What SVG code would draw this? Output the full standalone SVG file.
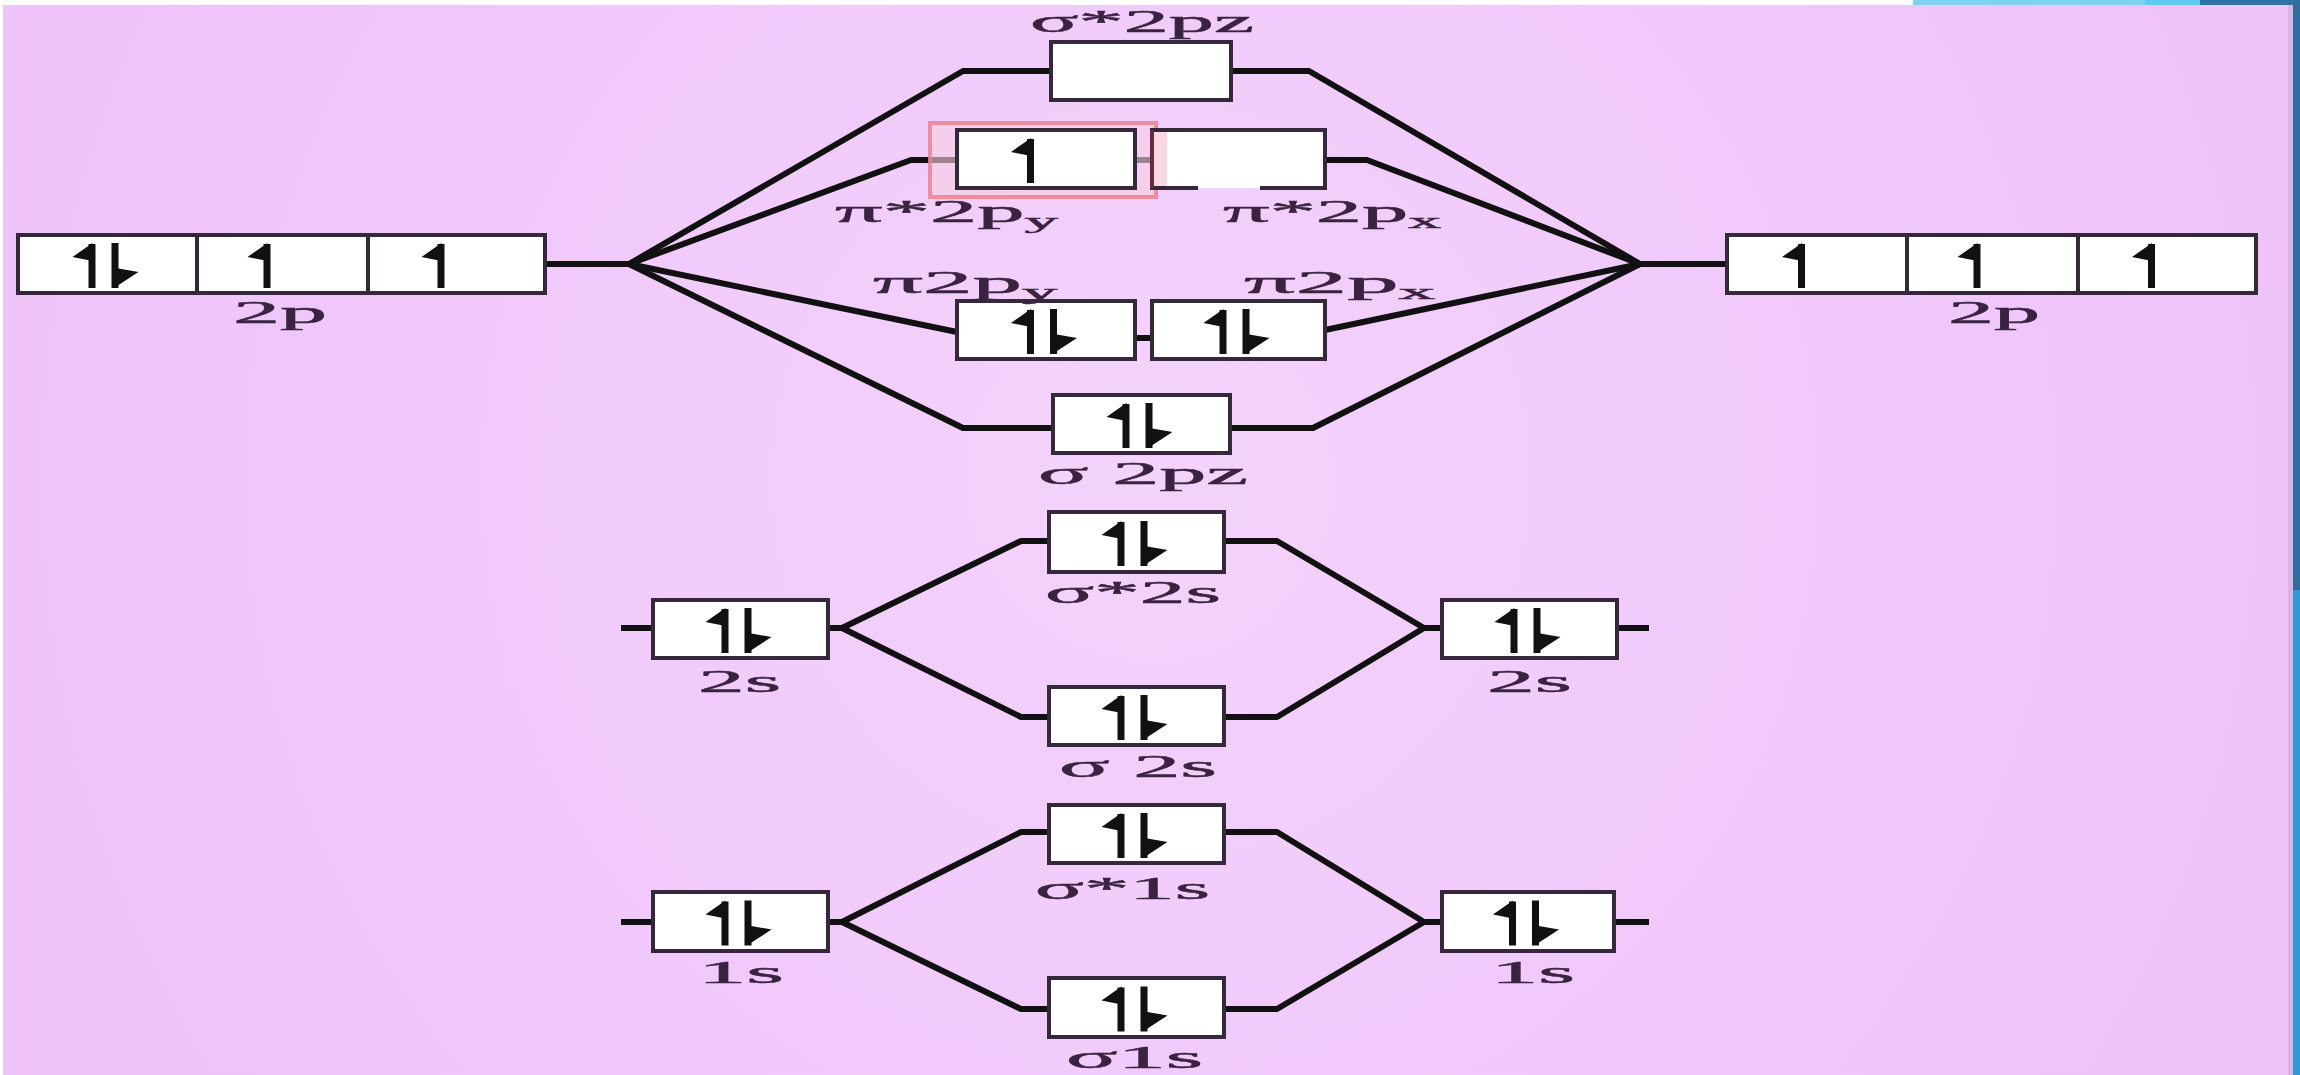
<svg xmlns="http://www.w3.org/2000/svg" xmlns:xlink="http://www.w3.org/1999/xlink" width="2300" height="1075" viewBox="0 0 2300 1075">
<defs>
<radialGradient id="bg" cx="1150" cy="480" r="1250" gradientUnits="userSpaceOnUse">
<stop offset="0" stop-color="#f3d3fb"/>
<stop offset="0.6" stop-color="#f0c8fa"/>
<stop offset="1" stop-color="#eec3f8"/>
</radialGradient>
<g id="up"><rect x="-19" y="-20" width="7" height="44"/><polygon points="-15,-21 -35,-7 -15,-3"/></g>
<g id="dn"><rect x="4" y="-21" width="7" height="45"/><polygon points="8,4 31,8 8,23"/></g>
<g id="pair"><use xlink:href="#up"/><use xlink:href="#dn"/></g>
</defs>
<style>
.box{fill:#ffffff;stroke:#35283a;stroke-width:4}
.ln{fill:none;stroke:#111111;stroke-width:6;stroke-linejoin:round;stroke-linecap:butt}
.dv{fill:none;stroke:#35283a;stroke-width:4}
.lbl{font-family:"Liberation Serif","DejaVu Serif",serif;font-size:31px;fill:#3a2340;stroke:#3a2340;stroke-width:0.5}
.sub{font-size:22px}
.e{fill:#111111}
</style>
<rect x="0" y="0" width="2300" height="1075" fill="url(#bg)"/>
<rect x="0" y="0" width="2300" height="5" fill="#ffffff"/>
<rect x="0" y="0" width="3" height="1075" fill="#ffffff"/>
<rect x="1913" y="0" width="232" height="5" fill="#7dd3f0"/>
<rect x="2145" y="0" width="55" height="5" fill="#5ec9ee"/>
<rect x="2200" y="0" width="100" height="5" fill="#2d73a5"/>
<rect x="2288" y="5" width="5" height="1070" fill="#ddb0e6"/>
<rect x="2293" y="0" width="7" height="590" fill="#2c6f9f"/>
<rect x="2293" y="590" width="7" height="485" fill="#2a9bd8"/>

<g id="connectors">
<path class="ln" d="M545,264 H629 L963,71 H1051"/>
<path class="ln" d="M629,264 L911,160 H957"/>
<path class="ln" d="M629,264 L957,332"/>
<path class="ln" d="M629,264 L963,428 H1053"/>
<path class="ln" d="M1727,264 H1640 L1309,71 H1231"/>
<path class="ln" d="M1640,264 L1367,160 H1325"/>
<path class="ln" d="M1640,264 L1325,330"/>
<path class="ln" d="M1640,264 L1313,428 H1230"/>
<path class="ln" d="M1135,160 H1152"/>
<path class="ln" d="M1135,338 H1152"/>
<path class="ln" d="M621,628 H653"/>
<path class="ln" d="M828,628 H842 L1021,541 H1049"/>
<path class="ln" d="M842,628 L1021,717 H1049"/>
<path class="ln" d="M1442,628 H1424 L1277,541 H1224"/>
<path class="ln" d="M1424,628 L1277,717 H1224"/>
<path class="ln" d="M1617,628 H1649"/>
<path class="ln" d="M621,922 H653"/>
<path class="ln" d="M828,922 H842 L1021,832 H1049"/>
<path class="ln" d="M842,922 L1021,1009 H1049"/>
<path class="ln" d="M1442,922 H1424 L1277,832 H1224"/>
<path class="ln" d="M1424,922 L1277,1009 H1224"/>
<path class="ln" d="M1614,922 H1649"/>
</g>

<g id="left-2p">
<rect class="box" x="18" y="235" width="527" height="58"/>
<path class="dv" d="M197,235 V293 M368,235 V293"/>
<g class="e"><use xlink:href="#pair" x="107.5" y="264"/><use xlink:href="#up" x="282.5" y="264"/><use xlink:href="#up" x="456.5" y="264"/></g>
<text class="lbl" x="233" y="323" textLength="94" lengthAdjust="spacingAndGlyphs">2p</text>
</g>

<g id="right-2p">
<rect class="box" x="1727" y="235" width="529" height="58"/>
<path class="dv" d="M1907,235 V293 M2078,235 V293"/>
<g class="e"><use xlink:href="#up" x="1817" y="264"/><use xlink:href="#up" x="1992.5" y="264"/><use xlink:href="#up" x="2167" y="264"/></g>
<text class="lbl" x="1948" y="323" textLength="92" lengthAdjust="spacingAndGlyphs">2p</text>
</g>

<g id="sigma-star-2pz">
<rect class="box" x="1051" y="42" width="180" height="58"/>
<text class="lbl" x="1030" y="32" textLength="224" lengthAdjust="spacingAndGlyphs">σ*2pz</text>
</g>

<g id="highlight">
<rect x="930" y="123" width="226" height="74" fill="#f6cfe4" fill-opacity="0.6" stroke="#f0808c" stroke-width="4" stroke-opacity="0.85"/>
</g>

<g id="pi-star-2py">
<rect class="box" x="957" y="130" width="178" height="58"/>
<g class="e"><use xlink:href="#up" x="1046" y="159"/></g>
<text class="lbl" x="835" y="222" textLength="223" lengthAdjust="spacingAndGlyphs">π*2p<tspan class="sub" dy="6">y</tspan></text>
</g>

<g id="pi-star-2px">
<rect x="1152" y="130" width="173" height="58" fill="#ffffff"/>
<rect x="1153" y="131" width="14" height="56" fill="#f8d8e2"/>
<path fill="none" stroke="#35283a" stroke-width="4" d="M1198,188 H1152 V130 H1325 V188 H1260"/>
<path fill="none" stroke="#6a2a3a" stroke-width="4" d="M1152,130 V188"/>
<text class="lbl" x="1223" y="222" textLength="218" lengthAdjust="spacingAndGlyphs">π*2p<tspan class="sub" dy="6">x</tspan></text>
</g>

<g id="pi-2py">
<rect class="box" x="957" y="301" width="178" height="58"/>
<g class="e"><use xlink:href="#pair" x="1046" y="330"/></g>
<text class="lbl" x="873" y="293" textLength="184" lengthAdjust="spacingAndGlyphs">π2p<tspan class="sub" dy="6">y</tspan></text>
</g>

<g id="pi-2px">
<rect class="box" x="1152" y="301" width="173" height="58"/>
<g class="e"><use xlink:href="#pair" x="1238.5" y="330"/></g>
<text class="lbl" x="1244" y="293" textLength="191" lengthAdjust="spacingAndGlyphs">π2p<tspan class="sub" dy="6">x</tspan></text>
</g>

<g id="sigma-2pz">
<rect class="box" x="1053" y="395" width="177" height="58"/>
<g class="e"><use xlink:href="#pair" x="1141.5" y="424"/></g>
<text class="lbl" x="1038" y="484" textLength="210" lengthAdjust="spacingAndGlyphs">σ 2pz</text>
</g>

<g id="sigma-star-2s">
<rect class="box" x="1049" y="512" width="175" height="60"/>
<g class="e"><use xlink:href="#pair" x="1136.5" y="542"/></g>
<text class="lbl" x="1045" y="603" textLength="176" lengthAdjust="spacingAndGlyphs">σ*2s</text>
</g>

<g id="left-2s">
<rect class="box" x="653" y="600" width="175" height="58"/>
<g class="e"><use xlink:href="#pair" x="740.5" y="629"/></g>
<text class="lbl" x="698" y="692" textLength="83" lengthAdjust="spacingAndGlyphs">2s</text>
</g>

<g id="right-2s">
<rect class="box" x="1442" y="600" width="175" height="58"/>
<g class="e"><use xlink:href="#pair" x="1529.5" y="629"/></g>
<text class="lbl" x="1487" y="692" textLength="85" lengthAdjust="spacingAndGlyphs">2s</text>
</g>

<g id="sigma-2s">
<rect class="box" x="1049" y="687" width="175" height="58"/>
<g class="e"><use xlink:href="#pair" x="1136.5" y="716"/></g>
<text class="lbl" x="1059" y="777" textLength="158" lengthAdjust="spacingAndGlyphs">σ 2s</text>
</g>

<g id="sigma-star-1s">
<rect class="box" x="1049" y="805" width="175" height="58"/>
<g class="e"><use xlink:href="#pair" x="1136.5" y="834"/></g>
<text class="lbl" x="1035" y="899" textLength="175" lengthAdjust="spacingAndGlyphs">σ*1s</text>
</g>

<g id="left-1s">
<rect class="box" x="653" y="892" width="175" height="59"/>
<g class="e"><use xlink:href="#pair" x="740.5" y="921.5"/></g>
<text class="lbl" x="698" y="983" textLength="86" lengthAdjust="spacingAndGlyphs">1s</text>
</g>

<g id="right-1s">
<rect class="box" x="1442" y="892" width="172" height="59"/>
<g class="e"><use xlink:href="#pair" x="1528" y="921.5"/></g>
<text class="lbl" x="1491" y="983" textLength="84" lengthAdjust="spacingAndGlyphs">1s</text>
</g>

<g id="sigma-1s">
<rect class="box" x="1049" y="978" width="175" height="59"/>
<g class="e"><use xlink:href="#pair" x="1136.5" y="1007.5"/></g>
<text class="lbl" x="1066" y="1068" textLength="137" lengthAdjust="spacingAndGlyphs">σ1s</text>
</g>
</svg>
